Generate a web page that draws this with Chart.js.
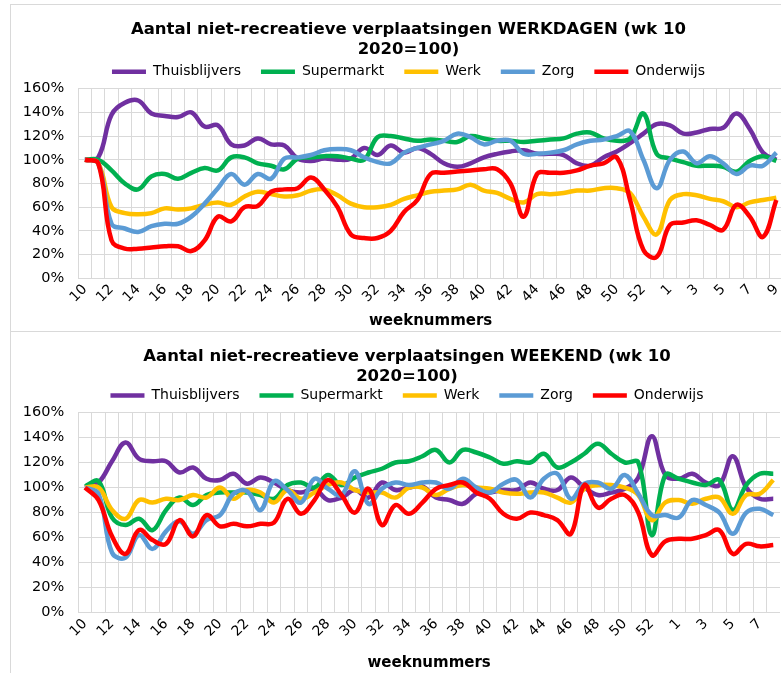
<!DOCTYPE html>
<html>
<head>
<meta charset="utf-8">
<script src="https://cdn.jsdelivr.net/npm/chart.js@4.4.1/dist/chart.umd.min.js"></script>
<style>
  html, body { margin: 0; padding: 0; background: #fff; overflow: hidden; width: 781px; height: 673px; }
  .panel { position: absolute; left: 10px; width: 800px; border: 1px solid #d9d9d9; box-sizing: border-box; }
  #p1 { top: 4px; height: 328px; }
  #p2 { top: 331px; height: 360px; }
  canvas { position: absolute; }
</style>
</head>
<body>
<div class="panel" id="p1"></div>
<div class="panel" id="p2"></div>
<canvas id="werkdagen" width="773" height="320" style="left:10px;top:10px"></canvas>
<canvas id="weekend" width="770" height="342" style="left:10px;top:331px"></canvas>
<script>
/* verplaatsingen wk 10 2020 = 100 — werkdagen en weekend */

const NAMES  = ['Thuisblijvers', 'Supermarkt', 'Werk', 'Zorg', 'Onderwijs'];
const COLORS = ['#7030A0', '#00B050', '#FFC000', '#5B9BD5', '#FF0000'];

const WEKEN_WD = ['10','11','12','13','14','15','16','17','18','19','20','21','22','23','24','25','26','27','28','29','30','31','32','33','34','35','36','37','38','39','40','41','42','43','44','45','46','47','48','49','50','51','52','53','1','2','3','4','5','6','7','8','9'];
const WEKEN_WE = ['10','11','12','13','14','15','16','17','18','19','20','21','22','23','24','25','26','27','28','29','30','31','32','33','34','35','36','37','38','39','40','41','42','43','44','45','46','47','48','49','50','51','52','53','1','2','3','4','5','6','7','8'];
const Y_TICKS = [0, 20, 40, 60, 80, 100, 120, 140, 160];

// werkdagen (%)
const THUIS_WD = [100,102,138,148,150,139,137,136,140,128,129,113,112,118,113,112,101,99,101,100,101,110,104,112,106,110,105,97,94,97,102,105,107,108,105,105,104,97,95,102,107,114,122,130,129,122,123,126,127,139,126,106,100];
const SUPER_WD = [100,100,91,80,75,86,88,84,89,93,91,102,102,97,95,92,101,102,103,103,101,100,119,120,118,116,117,116,115,120,118,116,116,115,116,117,118,122,123,118,116,118,139,105,101,98,95,95,94,90,99,103,99];
const WERK_WD  = [100,97,60,55,54,55,59,58,59,62,64,62,69,73,71,69,70,74,75,70,63,60,60,62,67,70,73,74,75,79,74,72,67,64,71,71,72,74,74,76,76,72,52,37,66,71,70,67,65,60,64,66,68];
const ZORG_WD  = [100,97,46,42,39,44,46,46,52,63,76,88,79,88,84,101,102,104,108,109,108,102,98,97,106,110,113,116,122,119,113,116,116,105,105,106,108,113,116,117,120,124,100,76,100,107,97,103,97,88,95,95,106];
const ONDER_WD = [100,97,32,25,25,26,27,27,23,32,52,48,60,61,73,75,76,85,75,60,37,34,34,40,56,66,88,89,90,91,92,92,80,52,88,89,89,91,95,97,102,66,24,18,45,47,49,45,41,62,52,35,66];

// weekend (%)
const THUIS_WE = [100,104,121,136,123,121,121,112,116,107,106,111,103,108,104,98,96,99,90,92,98,92,104,98,100,101,92,90,87,95,96,98,98,104,99,98,108,100,94,96,99,108,141,110,107,111,104,102,125,100,91,91];
const SUPER_WE = [101,105,76,70,75,66,82,92,86,94,96,96,96,94,91,102,104,100,110,102,108,112,115,120,121,125,130,120,130,128,124,119,121,120,127,116,120,127,135,127,120,120,62,110,107,104,102,106,82,102,111,111];
const WERK_WE  = [100,100,82,75,90,88,91,90,94,92,100,91,98,96,88,98,91,96,102,104,98,96,96,92,100,100,94,99,102,100,99,96,95,96,96,92,88,99,102,102,100,94,74,88,90,87,91,92,79,94,95,106];
const ZORG_WE  = [100,95,48,44,62,51,65,73,63,74,78,95,97,82,105,98,88,107,99,94,113,87,99,104,102,104,104,99,107,100,96,103,106,92,107,111,91,103,104,99,110,95,78,78,76,90,86,80,63,80,83,78];
const ONDER_WE = [100,90,61,47,66,58,55,74,61,78,69,71,69,71,72,91,79,90,106,94,80,99,70,86,79,88,99,102,104,96,91,79,75,80,78,74,63,102,84,91,94,80,46,57,59,59,62,66,47,55,53,54];

const FONT = 'DejaVu Sans';
const GRID = '#d9d9d9';

// titel en legenda iets naar rechts, zoals in Excel (niet gecentreerd op het canvas)
const schuifKop = {
  id: 'schuifKop',
  afterLayout: function (chart) {
    chart.titleBlock.left = 24;
    chart.legend.left = 24;
  }
};

function maakGrafiek(id, weken, reeksen, titel, g) {
  return new Chart(document.getElementById(id), {
    type: 'line',
    plugins: [schuifKop],
    data: {
      labels: weken,
      datasets: reeksen.map(function (d, k) {
        return {
          label: NAMES[k],
          data: d,
          borderColor: COLORS[k],
          backgroundColor: COLORS[k],
          borderWidth: 4.5,
          pointRadius: 0,
          tension: 0.4,
          order: 4 - k
        };
      })
    },
    options: {
      responsive: false,
      animation: false,
      layout: { padding: { left: 10, right: 0, top: 0, bottom: 0 } },
      plugins: {
        title: {
          display: true,
          text: titel,
          color: '#000',
          font: { family: FONT, size: 16.5, weight: 'bold', lineHeight: 1.21 },
          padding: { top: g.titleTop, bottom: g.titleBottom }
        },
        legend: {
          labels: {
            usePointStyle: true,
            pointStyle: 'line',
            pointStyleWidth: 34,
            color: '#000',
            font: { family: FONT, size: 14 },
            padding: 20,
            sort: function (a, b) { return a.datasetIndex - b.datasetIndex; }
          }
        },
        tooltip: { enabled: false }
      },
      scales: {
        x: {
          offset: true,
          grid: { offset: true, color: GRID, drawTicks: false },
          border: { color: GRID },
          ticks: {
            autoSkip: false, minRotation: 45, maxRotation: 45, padding: 3,
            color: '#000', font: { family: FONT, size: 14 },
            callback: function (v, i) { return i % 2 === 0 ? this.getLabelForValue(v) : ''; }
          },
          title: {
            display: true, text: 'weeknummers', color: '#000',
            font: { family: FONT, size: 15, weight: 'bold' },
            padding: { top: 0, bottom: g.xTitleBottom }
          },
          afterFit: function (s) { s.height = g.xHeight; s.paddingLeft = 0; s.paddingRight = 0; }
        },
        y: {
          min: Y_TICKS[0],
          max: Y_TICKS[Y_TICKS.length - 1],
          grid: { color: GRID, drawTicks: false },
          border: { color: GRID },
          afterBuildTicks: function (s) { s.ticks = Y_TICKS.map(function (v) { return { value: v }; }); },
          ticks: {
            padding: 14, color: '#000', font: { family: FONT, size: 14.5 },
            callback: function (v) { return v + '%'; }
          },
          afterFit: function (s) { s.width = 58.3; s.paddingTop = 0; s.paddingBottom = 0; }
        }
      }
    }
  });
}

maakGrafiek('werkdagen', WEKEN_WD,
  [THUIS_WD, SUPER_WD, WERK_WD, ZORG_WD, ONDER_WD],
  ['Aantal niet-recreatieve verplaatsingen WERKDAGEN (wk 10', '2020=100)'],
  { titleTop: 10, titleBottom: -15.3, xHeight: 51.7, xTitleBottom: 0 });

maakGrafiek('weekend', WEKEN_WE,
  [THUIS_WE, SUPER_WE, WERK_WE, ZORG_WE, ONDER_WE],
  ['Aantal niet-recreatieve verplaatsingen WEEKEND (wk 10', '2020=100)'],
  { titleTop: 16, titleBottom: -18.5, xHeight: 60.3, xTitleBottom: 0.8 });
</script>
</body>
</html>
